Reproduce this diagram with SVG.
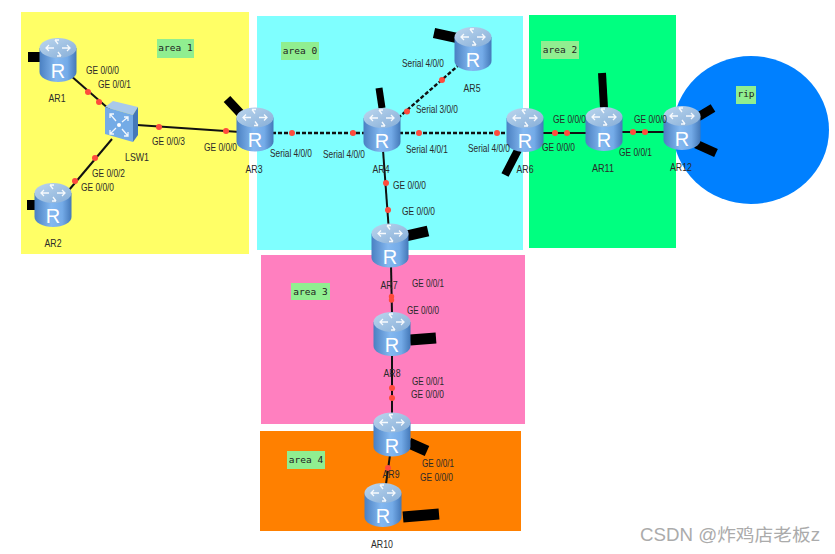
<svg xmlns="http://www.w3.org/2000/svg" width="835" height="554" viewBox="0 0 835 554">
<style>
.lbl{font-family:"Liberation Sans",Arial,sans-serif;font-size:11.5px;fill:#2a2a2a}
.name{font-family:"Liberation Sans",Arial,sans-serif;font-size:11.5px;fill:#2a2a2a;text-anchor:middle}
.tag{font-family:"DejaVu Sans Mono","Liberation Mono",monospace;font-size:9.5px;fill:#222;text-anchor:middle}
.tagbox{fill:#90ee90}
.r{font-family:"Liberation Sans",Arial,sans-serif;font-size:20px;fill:#fff;text-anchor:middle}
.solid{stroke:#111;stroke-width:2;fill:none}
.dash{stroke:#111;stroke-width:2.4;stroke-dasharray:4 2;fill:none}
.stub{stroke:#000;fill:none}
.dot{fill:#ff4b3c}
.arr{stroke:#fff;stroke-width:1.3;fill:none;opacity:.9}
.mark{font-family:"Liberation Sans","Noto Sans CJK SC",sans-serif;font-size:17.5px;fill:#ababab}
</style>
<defs>
<linearGradient id="body" x1="0" x2="1" y1="0" y2="0">
<stop offset="0" stop-color="#4a80c2"/><stop offset=".45" stop-color="#84b8f0"/><stop offset=".75" stop-color="#74abe8"/><stop offset="1" stop-color="#4478b8"/>
</linearGradient>
<linearGradient id="top" x1="0" x2="1" y1="0" y2="1">
<stop offset="0" stop-color="#bcd6ee"/><stop offset="1" stop-color="#86aed8"/>
</linearGradient>
<symbol id="router" overflow="visible">
<path d="M-18.500-12V12A18.500 10 0 0 0 18.500 12V-12Z" fill="url(#body)"/>
<ellipse cy="-12" rx="18.500" ry="10" fill="url(#top)"/>
<path class="arr" d="M-12-12H-4M-9-15L-12-12L-9-9M12-12H4M9-15L12-12L9-9M-3-20L0-16M-3-20H1M3-4L0-8M3-4H-1"/>
</symbol>
</defs>

<g id="areas">
<rect x="21" y="12" width="228" height="242" fill="#ffff66"/>
<rect x="257" y="16" width="266" height="234" fill="#7fffff"/>
<rect x="529" y="15" width="147" height="233" fill="#00ff80"/>
<rect x="261" y="255" width="264" height="169" fill="#ff7fbf"/>
<rect x="260" y="431" width="261" height="100" fill="#ff8000"/>
<ellipse cx="751" cy="130" rx="78" ry="74" fill="#0080ff"/>
</g>

<g id="area-tags">
<rect class="tagbox" x="157" y="39" width="37" height="19"/><text class="tag" x="175.500" y="51">area 1</text>
<rect class="tagbox" x="281" y="42" width="38" height="18"/><text class="tag" x="300" y="54">area 0</text>
<rect class="tagbox" x="541" y="41" width="38" height="18"/><text class="tag" x="560" y="53">area 2</text>
<rect class="tagbox" x="736" y="86" width="20" height="18"/><text class="tag" x="746" y="97">rip</text>
<rect class="tagbox" x="291" y="283" width="39" height="17"/><text class="tag" x="310.500" y="295">area 3</text>
<rect class="tagbox" x="287" y="451" width="38" height="18"/><text class="tag" x="306" y="463">area 4</text>
</g>

<g id="connectors">
<path class="solid" d="M70 75L110 110"/>
<path class="solid" d="M69 190L112 139"/>
<path class="solid" d="M137 125L240 132"/>
<path class="dash" d="M272 133H365"/>
<path class="dash" d="M398 118L460 64"/>
<path class="dash" d="M399 133H510"/>
<path class="solid" d="M383 150L388.500 225"/>
<path class="solid" d="M391 265L392 314"/>
<path class="solid" d="M392 354V414"/>
<path class="solid" d="M390 455L386 484"/>
<path class="solid" d="M542 133H588"/>
<path class="solid" d="M621 132H665"/>
<g class="stub">
<path stroke-width="10" d="M28 57H40"/>
<path stroke-width="10" d="M27 205H37"/>
<path stroke-width="9" d="M227 99L241 114"/>
<path stroke-width="7" d="M379 88L382 108"/>
<path stroke-width="10" d="M434 33L457 38"/>
<path stroke-width="8" d="M518 150L505 175"/>
<path stroke-width="11" d="M406 236L428 231"/>
<path stroke-width="11" d="M410 340L436 338"/>
<path stroke-width="11" d="M409 443L427 451"/>
<path stroke-width="11" d="M403 517L439 514"/>
<path stroke-width="8" d="M602 73L604 108"/>
<path stroke-width="9" d="M698 117L713 108"/>
<path stroke-width="9" d="M696 144L716 153"/>
</g>
<g class="dot">
<circle cx="88" cy="92" r="3"/><circle cx="99" cy="102" r="3"/>
<circle cx="95" cy="158" r="3"/><circle cx="75" cy="181" r="3"/>
<circle cx="159" cy="127" r="3"/><circle cx="226" cy="131" r="3"/>
<circle cx="292" cy="133" r="3"/><circle cx="353" cy="133" r="3"/>
<circle cx="407" cy="111.500" r="3"/><circle cx="442" cy="80" r="3"/>
<circle cx="419" cy="133" r="3"/><circle cx="497" cy="133" r="3"/>
<circle cx="386" cy="183" r="3"/><circle cx="388" cy="210" r="3"/>
<circle cx="555" cy="133" r="3"/><circle cx="567" cy="133" r="3"/>
<circle cx="633" cy="132" r="3"/><circle cx="645" cy="132" r="3"/>
<circle cx="391.500" cy="296.500" r="2.700"/><circle cx="391.500" cy="300" r="2.700"/>
<circle cx="392" cy="388" r="3"/><circle cx="392" cy="398" r="3"/>
<circle cx="388" cy="468" r="3"/>
</g>
</g>

<g id="LSW1">
<path d="M105 107L113 101L138 107L133 115Z" fill="#a9c9ea"/>
<path d="M105 107L133 115V142L105 134Z" fill="#74abe6"/>
<path d="M133 115L138 107V135L133 142Z" fill="#4478b8"/>
<circle cx="119" cy="125" r="2" fill="#fff"/>
<path class="arr" d="M110 114L116 121M110 118V114H114M128 117L122 122M128 121V117H124M110 134L116 128M110 130V134H114M128 136L122 129M128 132V136H124"/>
<text class="name" x="137" y="161" textLength="24" lengthAdjust="spacingAndGlyphs">LSW1</text>
</g>
<g id="AR1"><use href="#router" x="58" y="60"/><text class="r" x="58" y="78">R</text><text class="name" x="57" y="102" textLength="17" lengthAdjust="spacingAndGlyphs">AR1</text></g>
<g id="AR2"><use href="#router" x="53" y="205"/><text class="r" x="53" y="223">R</text><text class="name" x="53" y="247" textLength="17" lengthAdjust="spacingAndGlyphs">AR2</text></g>
<g id="AR3"><use href="#router" x="255" y="129.500"/><text class="r" x="255" y="147">R</text><text class="name" x="254" y="173" textLength="17" lengthAdjust="spacingAndGlyphs">AR3</text></g>
<g id="AR4"><use href="#router" x="382" y="130"/><text class="r" x="382" y="148">R</text><text class="name" x="381" y="173" textLength="17" lengthAdjust="spacingAndGlyphs">AR4</text></g>
<g id="AR5"><use href="#router" x="473" y="49"/><text class="r" x="473" y="67">R</text><text class="name" x="472" y="92" textLength="17" lengthAdjust="spacingAndGlyphs">AR5</text></g>
<g id="AR6"><use href="#router" x="525" y="130"/><text class="r" x="525" y="148">R</text><text class="name" x="525" y="173" textLength="17" lengthAdjust="spacingAndGlyphs">AR6</text></g>
<g id="AR7"><use href="#router" x="390" y="245.500"/><text class="r" x="390" y="264">R</text><text class="name" x="389" y="289" textLength="17" lengthAdjust="spacingAndGlyphs">AR7</text></g>
<g id="AR8"><use href="#router" x="392" y="334"/><text class="r" x="392" y="352">R</text><text class="name" x="392" y="377" textLength="17" lengthAdjust="spacingAndGlyphs">AR8</text></g>
<g id="AR9"><use href="#router" x="392" y="434.500"/><text class="r" x="392" y="453">R</text><text class="name" x="391" y="478" textLength="17" lengthAdjust="spacingAndGlyphs">AR9</text></g>
<g id="AR10"><use href="#router" x="383" y="505"/><text class="r" x="383" y="523">R</text><text class="name" x="382" y="548" textLength="22" lengthAdjust="spacingAndGlyphs">AR10</text></g>
<g id="AR11"><use href="#router" x="604" y="129"/><text class="r" x="604" y="147">R</text><text class="name" x="603" y="172" textLength="22" lengthAdjust="spacingAndGlyphs">AR11</text></g>
<g id="AR12"><use href="#router" x="682" y="128"/><text class="r" x="682" y="146">R</text><text class="name" x="681" y="171" textLength="22" lengthAdjust="spacingAndGlyphs">AR12</text></g>

<g id="interface-labels">
<text class="lbl" x="86" y="74" textLength="33" lengthAdjust="spacingAndGlyphs">GE 0/0/0</text>
<text class="lbl" x="98" y="88" textLength="33" lengthAdjust="spacingAndGlyphs">GE 0/0/1</text>
<text class="lbl" x="152" y="145" textLength="33" lengthAdjust="spacingAndGlyphs">GE 0/0/3</text>
<text class="lbl" x="204" y="151" textLength="33" lengthAdjust="spacingAndGlyphs">GE 0/0/0</text>
<text class="lbl" x="92" y="177" textLength="33" lengthAdjust="spacingAndGlyphs">GE 0/0/2</text>
<text class="lbl" x="81" y="191" textLength="33" lengthAdjust="spacingAndGlyphs">GE 0/0/0</text>
<text class="lbl" x="402" y="67" textLength="42" lengthAdjust="spacingAndGlyphs">Serial 4/0/0</text>
<text class="lbl" x="416" y="113" textLength="42" lengthAdjust="spacingAndGlyphs">Serial 3/0/0</text>
<text class="lbl" x="270" y="157" textLength="42" lengthAdjust="spacingAndGlyphs">Serial 4/0/0</text>
<text class="lbl" x="323" y="158" textLength="42" lengthAdjust="spacingAndGlyphs">Serial 4/0/0</text>
<text class="lbl" x="406" y="153" textLength="42" lengthAdjust="spacingAndGlyphs">Serial 4/0/1</text>
<text class="lbl" x="468" y="152" textLength="42" lengthAdjust="spacingAndGlyphs">Serial 4/0/0</text>
<text class="lbl" x="393" y="189" textLength="33" lengthAdjust="spacingAndGlyphs">GE 0/0/0</text>
<text class="lbl" x="402" y="215" textLength="33" lengthAdjust="spacingAndGlyphs">GE 0/0/0</text>
<text class="lbl" x="553" y="123" textLength="33" lengthAdjust="spacingAndGlyphs">GE 0/0/0</text>
<text class="lbl" x="542" y="151" textLength="33" lengthAdjust="spacingAndGlyphs">GE 0/0/0</text>
<text class="lbl" x="634" y="123" textLength="33" lengthAdjust="spacingAndGlyphs">GE 0/0/0</text>
<text class="lbl" x="619" y="156" textLength="33" lengthAdjust="spacingAndGlyphs">GE 0/0/1</text>
<text class="lbl" x="412" y="287" textLength="32" lengthAdjust="spacingAndGlyphs">GE 0/0/1</text>
<text class="lbl" x="407" y="314" textLength="32" lengthAdjust="spacingAndGlyphs">GE 0/0/0</text>
<text class="lbl" x="412" y="385" textLength="32" lengthAdjust="spacingAndGlyphs">GE 0/0/1</text>
<text class="lbl" x="411" y="398" textLength="33" lengthAdjust="spacingAndGlyphs">GE 0/0/0</text>
<text class="lbl" x="422" y="467" textLength="32" lengthAdjust="spacingAndGlyphs">GE 0/0/1</text>
<text class="lbl" x="420" y="481" textLength="33" lengthAdjust="spacingAndGlyphs">GE 0/0/0</text>
</g>

<text class="mark" x="640" y="541" textLength="180" lengthAdjust="spacingAndGlyphs">CSDN @炸鸡店老板z</text>
</svg>
